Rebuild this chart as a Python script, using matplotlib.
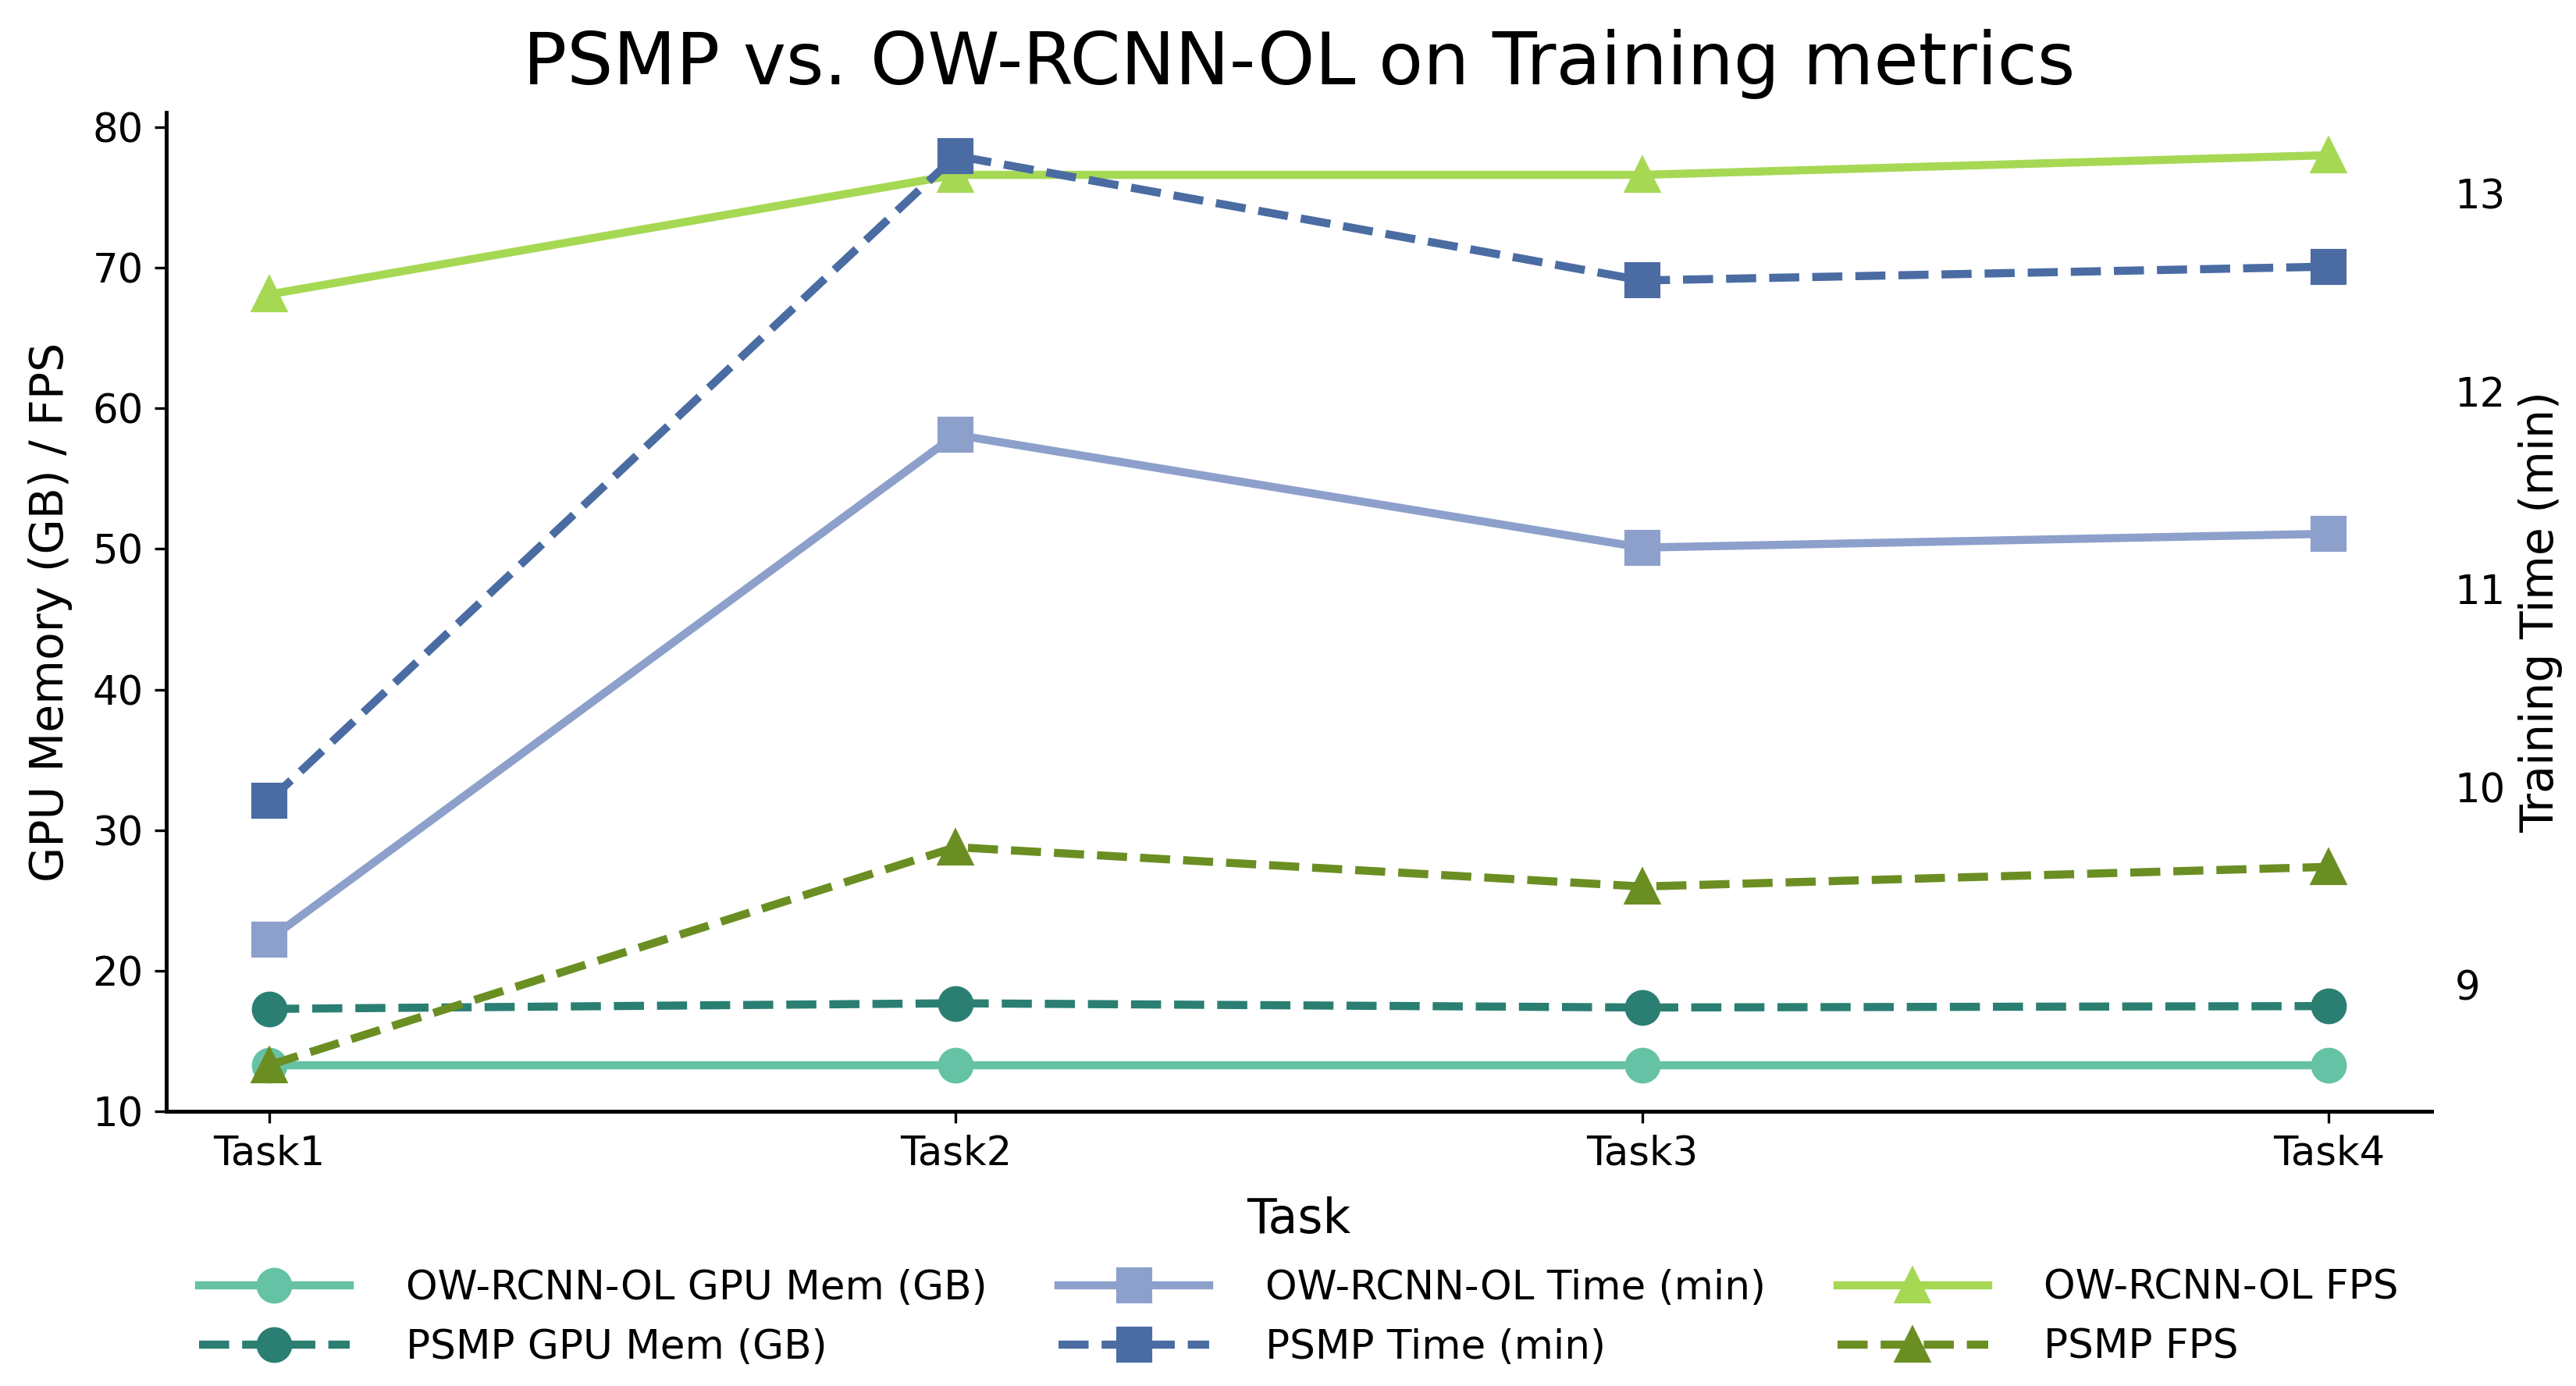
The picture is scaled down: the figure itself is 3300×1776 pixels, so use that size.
import matplotlib
matplotlib.use("Agg")
import matplotlib.pyplot as plt
import numpy as np

tasks = ["Task1", "Task2", "Task3", "Task4"]

ow_gpu = [13.3, 13.3, 13.3, 13.3]
psmp_gpu = [17.3, 17.7, 17.4, 17.5]
ow_fps = [68.1, 76.6, 76.6, 78.0]
psmp_fps = [13.3, 28.8, 26.0, 27.4]
ow_time = [9.23, 11.78, 11.21, 11.28]
psmp_time = [9.93, 13.19, 12.56, 12.63]

c_ow_gpu = "#66c2a5"
c_psmp_gpu = "#2a7f72"
c_ow_time = "#8da0cb"
c_psmp_time = "#4a6ca3"
c_ow_fps = "#a6d854"
c_psmp_fps = "#6b8e23"

x = np.arange(len(tasks))
lw = 2.5
ms = 10

fig, ax = plt.subplots(figsize=(11, 5.92), dpi=300)
fig.subplots_adjust(left=0.0645, right=0.944, bottom=0.198, top=0.919)
ax2 = ax.twinx()

l1, = ax.plot(x, ow_gpu, color=c_ow_gpu, marker="o", lw=lw, ms=ms, label="OW-RCNN-OL GPU Mem (GB)")
l2, = ax.plot(x, psmp_gpu, color=c_psmp_gpu, marker="o", ls="--", lw=lw, ms=ms, label="PSMP GPU Mem (GB)")
l3, = ax2.plot(x, ow_time, color=c_ow_time, marker="s", lw=lw, ms=ms, label="OW-RCNN-OL Time (min)")
l4, = ax2.plot(x, psmp_time, color=c_psmp_time, marker="s", ls="--", lw=lw, ms=ms, label="PSMP Time (min)")
l5, = ax.plot(x, ow_fps, color=c_ow_fps, marker="^", lw=lw, ms=ms, label="OW-RCNN-OL FPS")
l6, = ax.plot(x, psmp_fps, color=c_psmp_fps, marker="^", ls="--", lw=lw, ms=ms, label="PSMP FPS")

ax.set_xticks(x)
ax.set_xticklabels(tasks)
ax.set_ylim(10, 81.05)
ax2.set_ylim(8.36, 13.41)
ax2.set_yticks([9, 10, 11, 12, 13])

ax.tick_params(labelsize=12.3)
ax2.tick_params(labelsize=12.3, length=0, pad=7)

ax.set_xlabel("Task", fontsize=14.8, labelpad=7)
ax.set_ylabel("GPU Memory (GB) / FPS", fontsize=14, labelpad=6)
ax2.set_ylabel("Training Time (min)", fontsize=14)
ax.set_title("PSMP vs. OW-RCNN-OL on Training metrics", fontsize=22.4, pad=8.5)

for s in ["top", "right"]:
    ax.spines[s].set_visible(False)
for s in ["top", "right", "left", "bottom"]:
    ax2.spines[s].set_visible(False)
ax.spines["left"].set_linewidth(1.2)
ax.spines["bottom"].set_linewidth(1.2)

handles = [l1, l2, l3, l4, l5, l6]
ax.legend(handles, [h.get_label() for h in handles], loc="upper center",
          bbox_to_anchor=(0.5, -0.121), ncol=3, frameon=False, fontsize=12.4,
          handlelength=3.73, handletextpad=1.39, columnspacing=1.78)

fig.savefig("out.png", dpi=300)
